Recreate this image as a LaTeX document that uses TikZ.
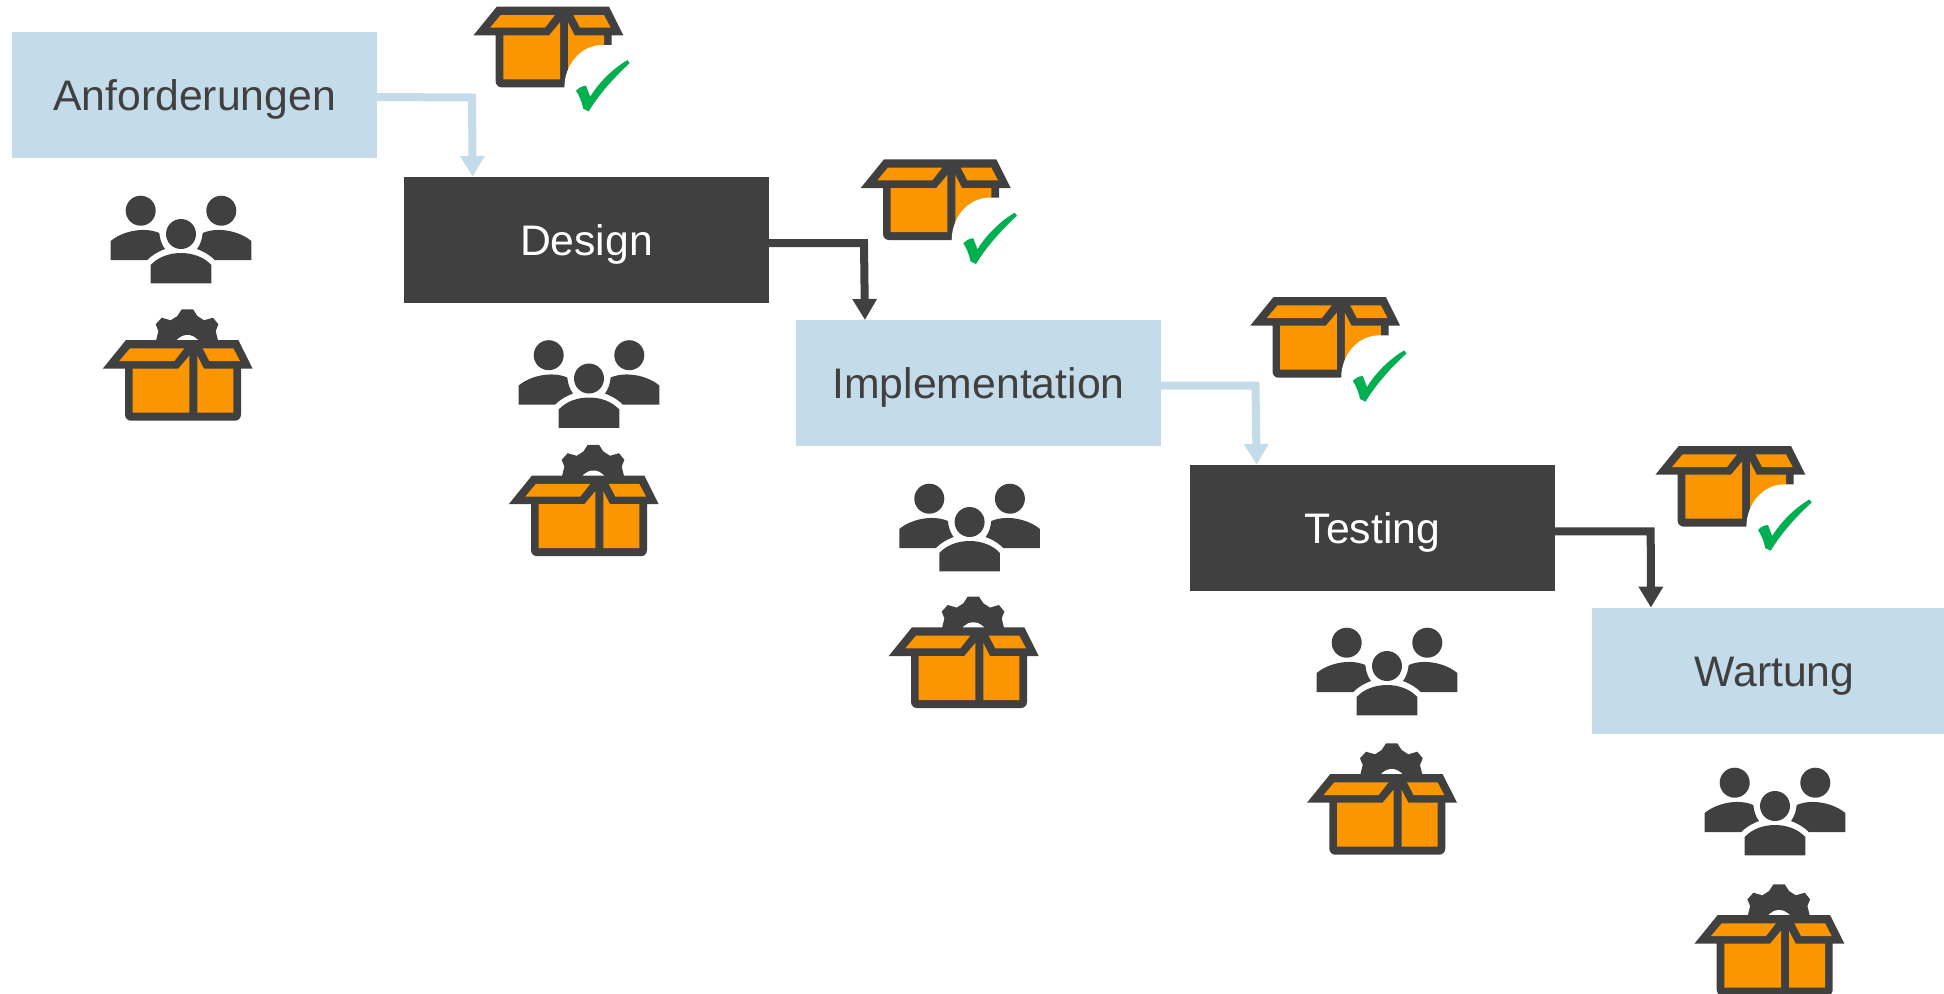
\documentclass[tikz,border=0pt]{standalone}
\usepackage{fontspec}
\setmainfont{Liberation Sans}
\usetikzlibrary{arrows.meta}
\definecolor{phasedark}{HTML}{404040}
\definecolor{phaseblue}{HTML}{C4DBE9}
\definecolor{cartonorange}{HTML}{FC9600}
\definecolor{checkgreen}{HTML}{00B050}

\tikzset{
    phasebox/.style={minimum width=3.65cm, minimum height=1.26cm, inner sep=0pt, outer sep=0pt,
        text height=11.4pt, text depth=2.5pt, font=\fontsize{12.15}{14}\selectfont},
    lightbox/.style={phasebox, fill=phaseblue, text=phasedark},
    darkbox/.style={phasebox, fill=phasedark, text=white},
    flowline/.style={line width=0.08cm, -{Triangle[length=0.21cm,width=0.233cm]}},
    carton/.pic={
        \fill[phasedark] (-22.3,28.7) -- (1,0) -- (113.3,0) -- (127.7,28.7) -- (116,28.7)
            [rounded corners=0.06cm] -- (116,80.7) -- (0,80.7) [sharp corners] -- (0,28.7) -- cycle;
        \fill[cartonorange] (5,8.3) -- (59.3,8.3) -- (49.3,21) -- (-5.7,21) -- cycle;
        \fill[cartonorange] (77.7,8.3) -- (108.3,8.3) -- (115,21) -- (84.3,21) -- cycle;
        \fill[cartonorange] (7.7,28.7) -- (53.3,28.7) -- (64.3,15.7) -- (64.3,72.7) -- (7.7,72.7) -- cycle;
        \fill[cartonorange] (72.3,15.7) -- (79,28.7) -- (108.3,28.7) -- (108.3,72.7) -- (72.3,72.7) -- cycle;
    },
    gearcarton/.pic={
        \fill[phasedark] (30.7,2) -- (33.4,-9) -- (30.7,-15.7) -- (36.7,-22.3) -- (45.7,-19.7) -- (52.4,-24)
            -- (56.7,-30.7) -- (68,-30.7) -- (72.4,-24) -- (79,-19.7) -- (88,-22.3) -- (93.4,-15.7)
            -- (90.7,-9) -- (93.4,2) -- cycle;
        \fill[white] (62.4,8.9) circle (13.9);
        \pic {carton};
    },
    checkcarton/.pic={
        \pic {carton};
        \fill[white] (68.7,82) -- (68.7,81) .. controls (68.7,58) and (85,38.3) .. (107,38.3) -- (130,38.3) -- (130,82) -- cycle;
        \fill[checkgreen] (80.3,84) .. controls (83,81) and (87,79) .. (90.3,79) -- (94.5,90)
            .. controls (103,76) and (117,62) .. (131.7,53.4) -- (134,56.4)
            .. controls (118,71) and (103,88) .. (93,104.7) -- (87.5,102)
            .. controls (86,94) and (83,88) .. (80.3,84) -- cycle;
    },
    team/.pic={
        \fill[phasedark] (-40.3,-23.3) circle (15);
        \fill[phasedark] (40.3,-23.3) circle (15);
        \fill[phasedark] (0,0) circle (15);
        \fill[phasedark] (-70.3,26) -- (-70.3,7) .. controls (-60,-2) and (-38,-8) .. (-21.7,-1)
            .. controls (-21,6) and (-19,11) .. (-16,15) .. controls (-24,18) and (-30,22) .. (-33.7,26) -- cycle;
        \fill[phasedark] (70.3,26) -- (70.3,7) .. controls (60,-2) and (38,-8) .. (21.7,-1)
            .. controls (21,6) and (19,11) .. (16,15) .. controls (24,18) and (30,22) .. (33.7,26) -- cycle;
        \fill[phasedark] (-30.3,49.3) -- (-30.3,31) .. controls (-16,15) and (16,15) .. (30.3,31) -- (30.3,49.3) -- cycle;
    }
}

\begin{document}
\begin{tikzpicture}[x=0.01cm, y=-0.01cm]
    \useasboundingbox (0,0) rectangle (1944,993);
    \clip (0,0) rectangle (1944,993);

    \node[lightbox] (anforderungen) at (194.5,95) {Anforderungen};
    \node[darkbox] (design) at (586.5,240) {Design};
    \node[lightbox] (implementation) at (978.5,383) {Implementation};
    \node[darkbox] (testing) at (1372.5,528) {Testing};
    \node[lightbox] (wartung) at (1774.5,670.7) {Wartung};

    \draw[flowline, phaseblue] ([yshift=-0.02cm]anforderungen.east) -- (472,97.5) -- ([xshift=0.687cm]design.north west);
    \draw[flowline, phasedark] ([yshift=-0.03cm]design.east) -- (864,243) -- ([xshift=0.69cm]implementation.north west);
    \draw[flowline, phaseblue] ([yshift=-0.025cm]implementation.east) -- (1255.5,385.5) -- ([xshift=0.667cm]testing.north west);
    \draw[flowline, phasedark] ([yshift=-0.033cm]testing.east) -- (1650.7,531.3) -- ([xshift=0.59cm]wartung.north west);

    \foreach \x / \y in {181/234, 589/378.5, 969.6/522, 1387/666, 1775/806}
        \pic at (\x, \y) {team};
    \foreach \x / \y in {125/340, 531/475.5, 911/627.3, 1329.3/774, 1716.7/915}
        \pic at (\x, \y) {gearcarton};
    \foreach \x / \y in {495.7/6.7, 883/159.3, 1272.5/297, 1677.7/446}
        \pic at (\x, \y) {checkcarton};

\end{tikzpicture}
\end{document}
